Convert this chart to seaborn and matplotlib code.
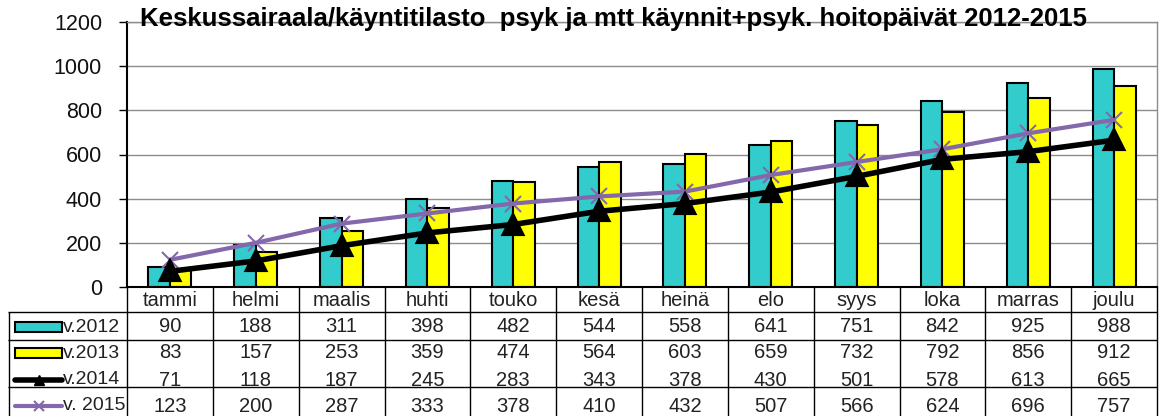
import matplotlib
matplotlib.use('Agg')
import matplotlib.pyplot as plt
import seaborn as sns
import pandas as pd
from matplotlib.patches import Rectangle

months = ['tammi', 'helmi', 'maalis', 'huhti', 'touko', 'kesä', 'heinä', 'elo', 'syys', 'loka', 'marras', 'joulu']
v2012 = [90, 188, 311, 398, 482, 544, 558, 641, 751, 842, 925, 988]
v2013 = [83, 157, 253, 359, 474, 564, 603, 659, 732, 792, 856, 912]
v2014 = [71, 118, 187, 245, 283, 343, 378, 430, 501, 578, 613, 665]
v2015 = [123, 200, 287, 333, 378, 410, 432, 507, 566, 624, 696, 757]
series_labels = ['v.2012', 'v.2013', 'v.2014', 'v. 2015']
title = 'Keskussairaala/käyntitilasto  psyk ja mtt käynnit+psyk. hoitopäivät 2012-2015'
yticks = [0, 200, 400, 600, 800, 1000, 1200]

c2012, c2013, c2014, c2015 = '#33CCCC', '#FFFF00', '#000000', '#8468AC'

sns.set_theme(style='white')
plt.rcParams['font.family'] = ['Liberation Sans', 'DejaVu Sans']

W, H = 1160, 416
L, R, T, B = 127, 1157, 22, 287
fig = plt.figure(figsize=(W / 100, H / 100), dpi=100)
ax = fig.add_axes([L / W, 1 - B / H, (R - L) / W, (B - T) / H])

bars = pd.DataFrame({'month': months * 2,
                     'value': v2012 + v2013,
                     'year': [series_labels[0]] * 12 + [series_labels[1]] * 12})
sns.barplot(data=bars, x='month', y='value', hue='year', order=months,
            palette=[c2012, c2013], width=0.5, edgecolor='black', linewidth=1.5,
            saturation=1, legend=False, ax=ax, zorder=2)
sns.pointplot(x=months, y=v2015, order=months, color=c2015, markers='x',
              markersize=11, markeredgewidth=1.5, linewidth=3, errorbar=None, ax=ax)
sns.pointplot(x=months, y=v2014, order=months, color=c2014, markers='^',
              markersize=13, linewidth=4, errorbar=None, ax=ax)

ax.set_xlim(-0.5, 11.5)
ax.set_ylim(0, 1200)
ax.set_yticks(yticks)
ax.set_xlabel('')
ax.set_ylabel('')
ax.tick_params(axis='x', length=0, labelbottom=False)
ax.tick_params(axis='y', left=True, length=6, width=1, color='black', pad=12,
               direction='out', labelsize=15.5, labelcolor='#111111')
ax.yaxis.grid(True, color='#8c8c8c', lw=1)
ax.set_axisbelow(True)
for s in ['left', 'bottom']:
    ax.spines[s].set_color('black')
    ax.spines[s].set_linewidth(1.5)
for s in ['top', 'right']:
    ax.spines[s].set_color('#8c8c8c')
    ax.spines[s].set_linewidth(1)

fig.text(0.529, 1 - 7 / H, title, ha='center', va='top', fontsize=18.5,
         fontweight='bold', color='black')

# data table
tx0 = 8
colw = (R - L) / 12
tax = fig.add_axes([tx0 / W, 0, (R - tx0) / W, (H - B) / H])
xmin = -0.5 - (L - tx0) / colw
tax.set_xlim(xmin, 11.5)
tax.set_ylim(H - B, 0)
tax.axis('off')

row_y = [14, 40, 66, 93, 119]
fs = 14.5
tax.vlines([i - 0.5 for i in range(13)], 0, H - B, color='black', lw=1, clip_on=False)
tax.vlines([xmin + 0.01], 25, H - B, color='black', lw=1, clip_on=False)
tax.hlines([25, 53, 100], xmin, 11.5, color='black', lw=1, clip_on=False)

for i, m in enumerate(months):
    tax.text(i, row_y[0], m, ha='center', va='center', fontsize=fs, color='#222222')
for r, vals in enumerate([v2012, v2013, v2014, v2015]):
    for i, v in enumerate(vals):
        tax.text(i, row_y[r + 1], str(v), ha='center', va='center', fontsize=fs, color='#222222')

kx0 = -0.5 - (L - 15) / colw
kx1 = -0.5 - (L - 62) / colw
lx = -0.5 - (L - 63) / colw
for r, col in enumerate([c2012, c2013]):
    y = row_y[r + 1]
    tax.add_patch(Rectangle((kx0, y - 5), kx1 - kx0, 10, facecolor=col,
                            edgecolor='black', lw=1.5, clip_on=False))
tax.plot([kx0, kx1], [row_y[3], row_y[3]], color=c2014, lw=4, clip_on=False)
tax.plot([(kx0 + kx1) / 2], [row_y[3]], marker='^', color=c2014, ms=7, clip_on=False)
tax.plot([kx0, kx1], [row_y[4], row_y[4]], color=c2015, lw=3, clip_on=False)
tax.plot([(kx0 + kx1) / 2], [row_y[4]], marker='x', color=c2015, ms=7, mew=1.5, clip_on=False)
for r, lab in enumerate(series_labels):
    tax.text(lx, row_y[r + 1], lab, ha='left', va='center', fontsize=fs - 0.5, color='#222222')

fig.savefig('out.png', dpi=100)
